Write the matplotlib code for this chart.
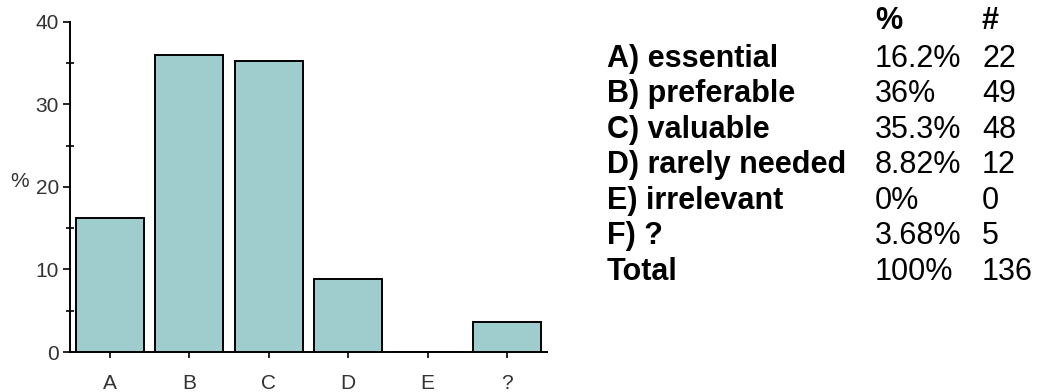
import matplotlib.pyplot as plt
from matplotlib.ticker import MultipleLocator

plt.rcParams["font.family"] = ["Liberation Sans", "DejaVu Sans"]

categories = ["A", "B", "C", "D", "E", "?"]
percents = [16.2, 36, 35.3, 8.82, 0, 3.68]

row_labels = ["A) essential", "B) preferable", "C) valuable", "D) rarely needed",
              "E) irrelevant", "F) ?", "Total"]
pct_labels = ["16.2%", "36%", "35.3%", "8.82%", "0%", "3.68%", "100%"]
counts = ["22", "49", "48", "12", "0", "5", "136"]

W, H = 1041, 392
fig = plt.figure(figsize=(W / 100, H / 100), dpi=100)
ax = fig.add_axes([70 / W, 40 / H, 477 / W, 330.3 / H])

x = range(len(categories))
ax.bar(x, percents, width=0.855, color="#9fcccc", edgecolor="black", linewidth=1.4, zorder=3)

ax.set_xlim(-0.5, 5.5)
ax.set_ylim(0, 40)
ax.set_xticks(list(x))
ax.set_xticklabels(categories)
ax.yaxis.set_major_locator(MultipleLocator(10))
ax.yaxis.set_minor_locator(MultipleLocator(5))
for s in ["top", "right"]:
    ax.spines[s].set_visible(False)
for s in ["left", "bottom"]:
    ax.spines[s].set_linewidth(1.4)
ax.tick_params(axis="y", which="major", direction="out", length=5, width=1.2,
               labelsize=15, pad=3, labelcolor="#333333")
ax.tick_params(axis="y", which="minor", direction="inout", length=6, width=1.2)
ax.tick_params(axis="x", direction="out", length=4, width=1.2,
               labelsize=15, pad=12, labelcolor="#333333")
ax.set_ylabel("%", rotation=0, fontsize=15, color="#333333", va="center")
ax.yaxis.set_label_coords(-0.105, 0.515)

# summary table on the right
def fy(py):
    return 1 - py / H

fs = 22
fig.text(875 / W, fy(29), "%", fontsize=fs, fontweight="bold", va="baseline")
fig.text(982 / W, fy(29), "#", fontsize=fs, fontweight="bold", va="baseline")
for i, (lab, p, c) in enumerate(zip(row_labels, pct_labels, counts)):
    y = fy(66.7 + i * 35.55)
    fig.text(607 / W, y, lab, fontsize=fs, fontweight="bold", va="baseline")
    fig.text(875 / W, y, p, fontsize=fs, va="baseline")
    fig.text(982 / W, y, c, fontsize=fs, va="baseline")

fig.savefig("out.png", dpi=100)
